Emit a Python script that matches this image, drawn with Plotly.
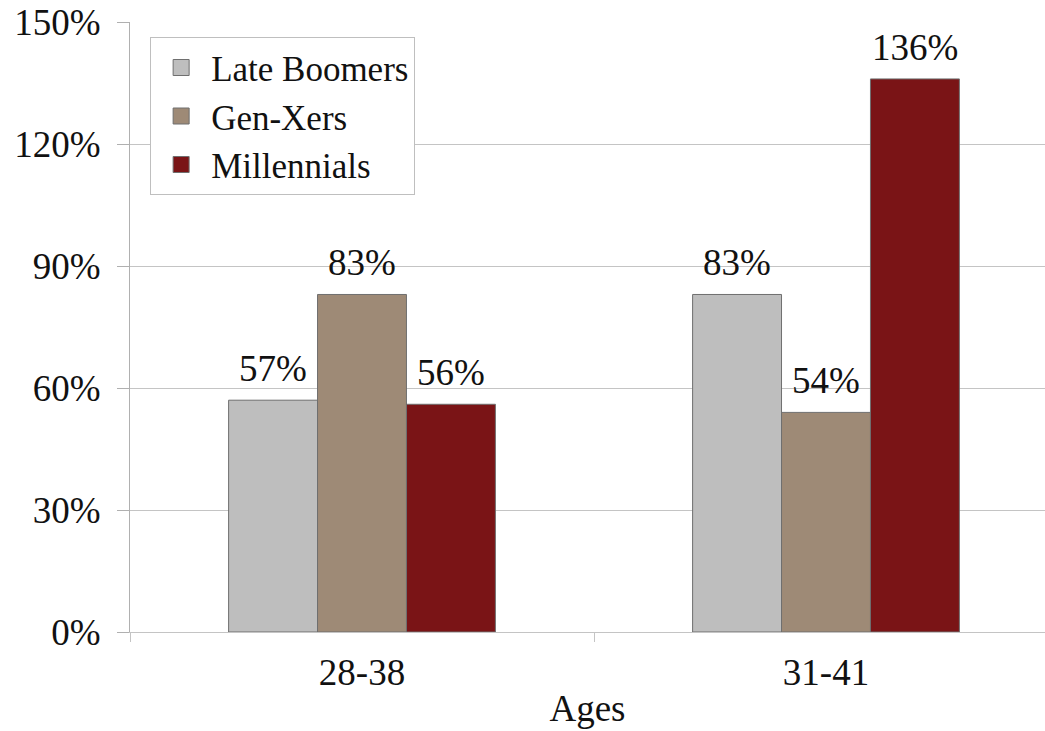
import plotly.graph_objects as go

# Age brackets and per-generation values (percent)
age_groups = ["28-38", "31-41"]
late_boomers = [57, 83]
gen_xers = [83, 54]
millennials = [56, 136]

series_names = ["Late Boomers", "Gen-Xers", "Millennials"]
series_values = [late_boomers, gen_xers, millennials]
series_colors = ["#bebebe", "#9e8a76", "#7a1416"]

y_ticks = [0, 30, 60, 90, 120, 150]
y_tick_labels = [f"{v}%" for v in y_ticks]

FONT = "Liberation Serif"
FSIZE = 37
BAR_GAP = 0.425
EDGE = "#6f6f6f"

fig = go.Figure()
n_series = len(series_names)
bar_w = (1 - BAR_GAP) / n_series

for i, (name, vals, color) in enumerate(zip(series_names, series_values, series_colors)):
    fig.add_trace(go.Bar(
        name=name,
        x=age_groups,
        y=vals,
        marker=dict(color=color, line=dict(color=EDGE, width=1)),
        showlegend=False,
    ))
    # legend entry with a larger square swatch
    fig.add_trace(go.Scatter(
        name=name,
        x=[None], y=[None],
        mode="markers",
        marker=dict(symbol="square", size=21, color=color, line=dict(color=EDGE, width=1)),
        showlegend=True,
    ))
    # value labels above each bar
    offset = (i - (n_series - 1) / 2) * bar_w
    for j, v in enumerate(vals):
        fig.add_annotation(
            x=j + offset, y=v, xref="x", yref="y",
            text=f"{v}%", showarrow=False,
            xanchor="center", yanchor="bottom", yshift=9,
            font=dict(family=FONT, size=FSIZE, color="#111111"),
        )

fig.update_layout(
    width=1045,
    height=731,
    margin=dict(l=130, r=0, t=22, b=99),
    paper_bgcolor="white",
    plot_bgcolor="white",
    barmode="group",
    bargap=BAR_GAP,
    bargroupgap=0,
    font=dict(family=FONT, size=FSIZE, color="#111111"),
    showlegend=True,
    legend=dict(
        x=0.022, y=0.975, xanchor="left", yanchor="top",
        bgcolor="white", bordercolor="#bfbfbf", borderwidth=1,
        font=dict(family=FONT, size=35, color="#111111"),
        itemwidth=50, itemsizing="trace",
    ),
    xaxis=dict(
        range=[-0.5, 1.472],
        showline=True, linecolor="#c4c4c4", linewidth=1,
        ticks="outside", ticklen=9, tickcolor="#c4c4c4",
        tickson="boundaries",
        showgrid=False,
        title=dict(text="Ages", font=dict(family=FONT, size=FSIZE), standoff=2),
        tickfont=dict(family=FONT, size=FSIZE),
        ticklabelstandoff=8,
    ),
    yaxis=dict(
        range=[0, 150],
        tickvals=y_ticks, ticktext=y_tick_labels,
        showline=True, linecolor="#b0b0b0", linewidth=1,
        ticks="outside", ticklen=12, tickcolor="#b0b0b0",
        showgrid=True, gridcolor="#c4c4c4", gridwidth=1,
        zeroline=False,
        tickfont=dict(family=FONT, size=FSIZE),
        ticklabelstandoff=9,
    ),
)

fig.write_html("out.html")
